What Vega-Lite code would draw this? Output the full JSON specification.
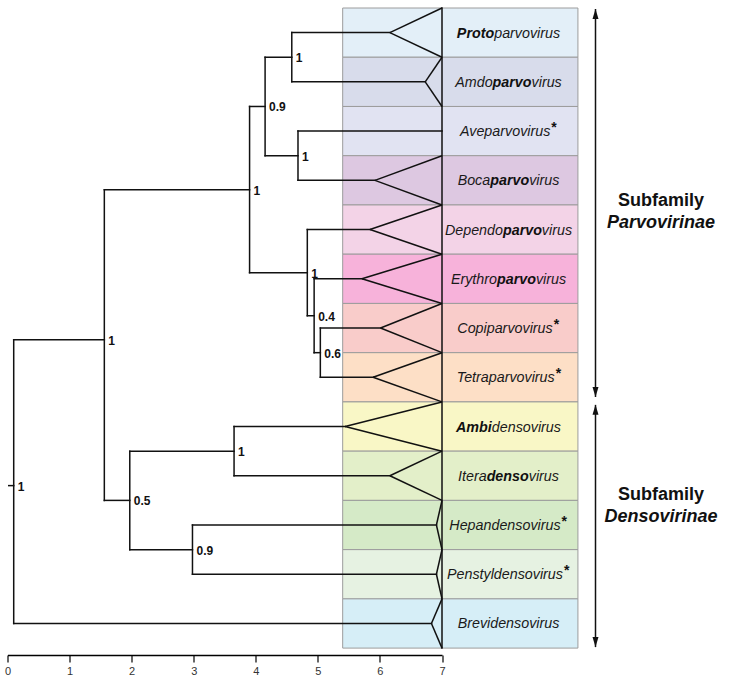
{
  "$schema": "https://vega.github.io/schema/vega-lite/v6.json",
  "width": 720,
  "height": 647,
  "autosize": {"type": "none"},
  "padding": {"left": 7.5, "top": 8, "right": 1.5, "bottom": 28},
  "config": {"view": {"stroke": null}, "font": "Liberation Sans"},
  "datasets": {
    "genera": [
      {"genus": "Protoparvovirus", "top": 0, "mid": 0.5, "bottom": 1, "apex": 6.16},
      {"genus": "Amdoparvovirus", "top": 1, "mid": 1.5, "bottom": 2, "apex": 6.73},
      {"genus": "Aveparvovirus", "top": 2, "mid": 2.5, "bottom": 3, "apex": null},
      {"genus": "Bocaparvovirus", "top": 3, "mid": 3.5, "bottom": 4, "apex": 5.92},
      {"genus": "Dependoparvovirus", "top": 4, "mid": 4.5, "bottom": 5, "apex": 5.84},
      {"genus": "Erythroparvovirus", "top": 5, "mid": 5.5, "bottom": 6, "apex": 5.71},
      {"genus": "Copiparvovirus", "top": 6, "mid": 6.5, "bottom": 7, "apex": 6.01},
      {"genus": "Tetraparvovirus", "top": 7, "mid": 7.5, "bottom": 8, "apex": 5.89},
      {"genus": "Ambidensovirus", "top": 8, "mid": 8.5, "bottom": 9, "apex": 5.44},
      {"genus": "Iteradensovirus", "top": 9, "mid": 9.5, "bottom": 10, "apex": 6.16},
      {"genus": "Hepandensovirus", "top": 10, "mid": 10.5, "bottom": 11, "apex": 6.91},
      {"genus": "Penstyldensovirus", "top": 11, "mid": 11.5, "bottom": 12, "apex": 6.91},
      {"genus": "Brevidensovirus", "top": 12, "mid": 12.5, "bottom": 13, "apex": 6.83}
    ],
    "tree": [
      {"x": 0.02, "y": 9.7, "x2": 0.1, "y2": 9.7},
      {"x": 0.1, "y": 6.74, "x2": 0.1, "y2": 12.5},
      {"x": 0.1, "y": 6.74, "x2": 1.56, "y2": 6.74},
      {"x": 0.1, "y": 12.5, "x2": 6.83, "y2": 12.5},
      {"x": 1.56, "y": 3.69, "x2": 1.56, "y2": 10.0},
      {"x": 1.56, "y": 3.69, "x2": 3.9, "y2": 3.69},
      {"x": 1.56, "y": 10.0, "x2": 1.97, "y2": 10.0},
      {"x": 3.9, "y": 2.0, "x2": 3.9, "y2": 5.375},
      {"x": 3.9, "y": 2.0, "x2": 4.15, "y2": 2.0},
      {"x": 3.9, "y": 5.375, "x2": 4.83, "y2": 5.375},
      {"x": 4.15, "y": 1.0, "x2": 4.15, "y2": 3.0},
      {"x": 4.15, "y": 1.0, "x2": 4.58, "y2": 1.0},
      {"x": 4.15, "y": 3.0, "x2": 4.68, "y2": 3.0},
      {"x": 4.58, "y": 0.5, "x2": 4.58, "y2": 1.5},
      {"x": 4.58, "y": 0.5, "x2": 6.16, "y2": 0.5},
      {"x": 4.58, "y": 1.5, "x2": 6.73, "y2": 1.5},
      {"x": 4.68, "y": 2.5, "x2": 4.68, "y2": 3.5},
      {"x": 4.68, "y": 2.5, "x2": 7.0, "y2": 2.5},
      {"x": 4.68, "y": 3.5, "x2": 5.92, "y2": 3.5},
      {"x": 4.83, "y": 4.5, "x2": 4.83, "y2": 6.25},
      {"x": 4.83, "y": 4.5, "x2": 5.84, "y2": 4.5},
      {"x": 4.83, "y": 6.25, "x2": 4.94, "y2": 6.25},
      {"x": 4.94, "y": 5.5, "x2": 4.94, "y2": 7.0},
      {"x": 4.94, "y": 5.5, "x2": 5.71, "y2": 5.5},
      {"x": 4.94, "y": 7.0, "x2": 5.04, "y2": 7.0},
      {"x": 5.04, "y": 6.5, "x2": 5.04, "y2": 7.5},
      {"x": 5.04, "y": 6.5, "x2": 6.01, "y2": 6.5},
      {"x": 5.04, "y": 7.5, "x2": 5.89, "y2": 7.5},
      {"x": 1.97, "y": 9.0, "x2": 1.97, "y2": 11.0},
      {"x": 1.97, "y": 9.0, "x2": 3.65, "y2": 9.0},
      {"x": 1.97, "y": 11.0, "x2": 2.98, "y2": 11.0},
      {"x": 3.65, "y": 8.5, "x2": 3.65, "y2": 9.5},
      {"x": 3.65, "y": 8.5, "x2": 5.44, "y2": 8.5},
      {"x": 3.65, "y": 9.5, "x2": 6.16, "y2": 9.5},
      {"x": 2.98, "y": 10.5, "x2": 2.98, "y2": 11.5},
      {"x": 2.98, "y": 10.5, "x2": 6.91, "y2": 10.5},
      {"x": 2.98, "y": 11.5, "x2": 6.91, "y2": 11.5},
      {"x": 7.0, "y": 0, "x2": 7.0, "y2": 13}
    ],
    "support": [
      {"x": 0.1, "y": 9.7, "label": "1"},
      {"x": 1.56, "y": 6.74, "label": "1"},
      {"x": 3.9, "y": 3.69, "label": "1"},
      {"x": 4.15, "y": 2.0, "label": "0.9"},
      {"x": 4.58, "y": 1.0, "label": "1"},
      {"x": 4.68, "y": 3.0, "label": "1"},
      {"x": 4.83, "y": 5.375, "label": "1"},
      {"x": 4.94, "y": 6.25, "label": "0.4"},
      {"x": 5.04, "y": 7.0, "label": "0.6"},
      {"x": 1.97, "y": 10.0, "label": "0.5"},
      {"x": 3.65, "y": 9.0, "label": "1"},
      {"x": 2.98, "y": 11.0, "label": "0.9"}
    ],
    "names": [
      {"genus": "Protoparvovirus", "text": "Proto", "x": 7.841, "mid": 0.5, "emph": true, "anchor": "end"},
      {"genus": "Protoparvovirus", "text": "parvovirus", "x": 7.841, "mid": 0.5, "emph": false, "anchor": "start"},
      {"genus": "Amdoparvovirus", "text": "Amdo", "x": 7.815, "mid": 1.5, "emph": false, "anchor": "end"},
      {"genus": "Amdoparvovirus", "text": "parvo", "x": 7.815, "mid": 1.5, "emph": true, "anchor": "start"},
      {"genus": "Amdoparvovirus", "text": "virus", "x": 8.443, "mid": 1.5, "emph": false, "anchor": "start"},
      {"genus": "Aveparvovirus", "text": "Aveparvovirus", "x": 8.745, "mid": 2.5, "emph": false, "anchor": "end"},
      {"genus": "Aveparvovirus", "text": "*", "x": 8.745, "mid": 2.5, "emph": false, "anchor": "sup"},
      {"genus": "Bocaparvovirus", "text": "Boca", "x": 7.777, "mid": 3.5, "emph": false, "anchor": "end"},
      {"genus": "Bocaparvovirus", "text": "parvo", "x": 7.777, "mid": 3.5, "emph": true, "anchor": "start"},
      {"genus": "Bocaparvovirus", "text": "virus", "x": 8.405, "mid": 3.5, "emph": false, "anchor": "start"},
      {"genus": "Dependoparvovirus", "text": "Dependo", "x": 7.982, "mid": 4.5, "emph": false, "anchor": "end"},
      {"genus": "Dependoparvovirus", "text": "parvo", "x": 7.982, "mid": 4.5, "emph": true, "anchor": "start"},
      {"genus": "Dependoparvovirus", "text": "virus", "x": 8.609, "mid": 4.5, "emph": false, "anchor": "start"},
      {"genus": "Erythroparvovirus", "text": "Erythro", "x": 7.886, "mid": 5.5, "emph": false, "anchor": "end"},
      {"genus": "Erythroparvovirus", "text": "parvo", "x": 7.886, "mid": 5.5, "emph": true, "anchor": "start"},
      {"genus": "Erythroparvovirus", "text": "virus", "x": 8.513, "mid": 5.5, "emph": false, "anchor": "start"},
      {"genus": "Copiparvovirus", "text": "Copiparvovirus", "x": 8.783, "mid": 6.5, "emph": false, "anchor": "end"},
      {"genus": "Copiparvovirus", "text": "*", "x": 8.783, "mid": 6.5, "emph": false, "anchor": "sup"},
      {"genus": "Tetraparvovirus", "text": "Tetraparvovirus", "x": 8.816, "mid": 7.5, "emph": false, "anchor": "end"},
      {"genus": "Tetraparvovirus", "text": "*", "x": 8.816, "mid": 7.5, "emph": false, "anchor": "sup"},
      {"genus": "Ambidensovirus", "text": "Ambi", "x": 7.802, "mid": 8.5, "emph": true, "anchor": "end"},
      {"genus": "Ambidensovirus", "text": "densovirus", "x": 7.802, "mid": 8.5, "emph": false, "anchor": "start"},
      {"genus": "Iteradensovirus", "text": "Itera", "x": 7.719, "mid": 9.5, "emph": false, "anchor": "end"},
      {"genus": "Iteradensovirus", "text": "denso", "x": 7.719, "mid": 9.5, "emph": true, "anchor": "start"},
      {"genus": "Iteradensovirus", "text": "virus", "x": 8.398, "mid": 9.5, "emph": false, "anchor": "start"},
      {"genus": "Hepandensovirus", "text": "Hepandensovirus", "x": 8.911, "mid": 10.5, "emph": false, "anchor": "end"},
      {"genus": "Hepandensovirus", "text": "*", "x": 8.911, "mid": 10.5, "emph": false, "anchor": "sup"},
      {"genus": "Penstyldensovirus", "text": "Penstyldensovirus", "x": 8.949, "mid": 11.5, "emph": false, "anchor": "end"},
      {"genus": "Penstyldensovirus", "text": "*", "x": 8.949, "mid": 11.5, "emph": false, "anchor": "sup"},
      {"genus": "Brevidensovirus", "text": "Brevidensovirus", "x": 7.252, "mid": 12.5, "emph": false, "anchor": "start"}
    ],
    "subfamilies": [
      {"text": "Subfamily", "x": 10.528, "y": 4.02, "kind": "word"},
      {"text": "Parvovirinae", "x": 10.528, "y": 4.47, "kind": "name"},
      {"text": "Subfamily", "x": 10.528, "y": 9.99, "kind": "word"},
      {"text": "Densovirinae", "x": 10.528, "y": 10.44, "kind": "name"}
    ],
    "arrows": [
      {"x": 9.473, "y": 0.02, "y2": 7.9},
      {"x": 9.473, "y": 8.06, "y2": 12.98}
    ],
    "heads": [
      {"x": 9.473, "y": 0.02, "dir": "up"},
      {"x": 9.473, "y": 7.9, "dir": "down"},
      {"x": 9.473, "y": 8.06, "dir": "up"},
      {"x": 9.473, "y": 12.98, "dir": "down"}
    ]
  },
  "layer": [
    {
      "data": {"name": "genera"},
      "mark": {"type": "rect", "stroke": "#9c9c9c", "strokeWidth": 1},
      "encoding": {
        "x": {"datum": 5.4, "type": "quantitative", "title": null, "scale": {"domain": [0, 7], "range": [0, 434.5], "nice": false, "zero": false},
          "axis": {"title": null, "values": [0, 1, 2, 3, 4, 5, 6, 7], "format": "d", "grid": false, "domain": true, "domainColor": "#000", "domainWidth": 1.5, "ticks": true, "tickColor": "#000", "tickWidth": 1.2, "tickSize": 7, "labelFont": "Liberation Sans", "labelFontSize": 11, "labelColor": "#333", "labelPadding": 3, "labelFlush": false}},
        "x2": {"datum": 9.19},
        "y": {"field": "top", "type": "quantitative", "scale": {"domain": [0, 13.14], "reverse": true, "nice": false, "zero": false}, "axis": null},
        "y2": {"field": "bottom"},
        "color": {"field": "genus", "type": "nominal", "legend": null, "scale": {
          "domain": ["Protoparvovirus", "Amdoparvovirus", "Aveparvovirus", "Bocaparvovirus", "Dependoparvovirus", "Erythroparvovirus", "Copiparvovirus", "Tetraparvovirus", "Ambidensovirus", "Iteradensovirus", "Hepandensovirus", "Penstyldensovirus", "Brevidensovirus"],
          "range": ["#E3EFF8", "#D8DCEB", "#E1E3F2", "#DDC8E1", "#F3D3E7", "#F7B2DA", "#F9CCCA", "#FDDFC6", "#F9F7C6", "#E3EFC9", "#D5EAC7", "#E6F2E2", "#D6EEF7"]}}
      }
    },
    {
      "data": {"name": "tree"},
      "mark": {"type": "rule", "color": "#111", "strokeWidth": 1.5, "strokeCap": "square"},
      "encoding": {
        "x": {"field": "x", "type": "quantitative", "title": null},
        "x2": {"field": "x2"},
        "y": {"field": "y", "type": "quantitative", "axis": null},
        "y2": {"field": "y2"}
      }
    },
    {
      "data": {"name": "genera"},
      "transform": [{"filter": "datum.apex != null"}],
      "mark": {"type": "rule", "color": "#111", "strokeWidth": 1.5},
      "encoding": {
        "x": {"field": "apex", "type": "quantitative", "title": null},
        "x2": {"datum": 7},
        "y": {"field": "mid", "type": "quantitative", "axis": null},
        "y2": {"field": "top"}
      }
    },
    {
      "data": {"name": "genera"},
      "transform": [{"filter": "datum.apex != null"}],
      "mark": {"type": "rule", "color": "#111", "strokeWidth": 1.5},
      "encoding": {
        "x": {"field": "apex", "type": "quantitative", "title": null},
        "x2": {"datum": 7},
        "y": {"field": "mid", "type": "quantitative", "axis": null},
        "y2": {"field": "bottom"}
      }
    },
    {
      "data": {"name": "support"},
      "mark": {"type": "text", "align": "left", "baseline": "middle", "dx": 4, "dy": 1, "font": "Liberation Sans", "fontSize": 12, "fontWeight": "bold", "color": "#111"},
      "encoding": {
        "x": {"field": "x", "type": "quantitative", "title": null},
        "y": {"field": "y", "type": "quantitative", "axis": null},
        "text": {"field": "label"}
      }
    },
    {
      "data": {"name": "names"},
      "transform": [{"filter": "datum.emph == false && datum.anchor == 'end'"}],
      "mark": {"type": "text", "align": "right", "baseline": "middle", "dy": 1, "font": "Liberation Sans", "fontSize": 14.3, "fontStyle": "italic", "color": "#1a1a1a"},
      "encoding": {
        "x": {"field": "x", "type": "quantitative", "title": null},
        "y": {"field": "mid", "type": "quantitative", "axis": null},
        "text": {"field": "text"}
      }
    },
    {
      "data": {"name": "names"},
      "transform": [{"filter": "datum.emph == false && datum.anchor == 'start'"}],
      "mark": {"type": "text", "align": "left", "baseline": "middle", "dy": 1, "font": "Liberation Sans", "fontSize": 14.3, "fontStyle": "italic", "color": "#1a1a1a"},
      "encoding": {
        "x": {"field": "x", "type": "quantitative", "title": null},
        "y": {"field": "mid", "type": "quantitative", "axis": null},
        "text": {"field": "text"}
      }
    },
    {
      "data": {"name": "names"},
      "transform": [{"filter": "datum.emph == true && datum.anchor == 'end'"}],
      "mark": {"type": "text", "align": "right", "baseline": "middle", "dy": 1, "font": "Liberation Sans", "fontSize": 14.3, "fontStyle": "italic", "fontWeight": "bold", "color": "#111"},
      "encoding": {
        "x": {"field": "x", "type": "quantitative", "title": null},
        "y": {"field": "mid", "type": "quantitative", "axis": null},
        "text": {"field": "text"}
      }
    },
    {
      "data": {"name": "names"},
      "transform": [{"filter": "datum.emph == true && datum.anchor == 'start'"}],
      "mark": {"type": "text", "align": "left", "baseline": "middle", "dy": 1, "font": "Liberation Sans", "fontSize": 14.3, "fontStyle": "italic", "fontWeight": "bold", "color": "#111"},
      "encoding": {
        "x": {"field": "x", "type": "quantitative", "title": null},
        "y": {"field": "mid", "type": "quantitative", "axis": null},
        "text": {"field": "text"}
      }
    },
    {
      "data": {"name": "names"},
      "transform": [{"filter": "datum.anchor == 'sup'"}],
      "mark": {"type": "text", "align": "left", "baseline": "middle", "dx": 1, "dy": -3, "font": "Liberation Sans", "fontSize": 14, "fontWeight": "bold", "color": "#111"},
      "encoding": {
        "x": {"field": "x", "type": "quantitative", "title": null},
        "y": {"field": "mid", "type": "quantitative", "axis": null},
        "text": {"field": "text"}
      }
    },
    {
      "data": {"name": "subfamilies"},
      "transform": [{"filter": "datum.kind == 'word'"}],
      "mark": {"type": "text", "align": "center", "baseline": "alphabetic", "font": "Liberation Sans", "fontSize": 18, "fontWeight": "bold", "color": "#111"},
      "encoding": {
        "x": {"field": "x", "type": "quantitative", "title": null},
        "y": {"field": "y", "type": "quantitative", "axis": null},
        "text": {"field": "text"}
      }
    },
    {
      "data": {"name": "subfamilies"},
      "transform": [{"filter": "datum.kind == 'name'"}],
      "mark": {"type": "text", "align": "center", "baseline": "alphabetic", "font": "Liberation Sans", "fontSize": 18, "fontWeight": "bold", "fontStyle": "italic", "color": "#111"},
      "encoding": {
        "x": {"field": "x", "type": "quantitative", "title": null},
        "y": {"field": "y", "type": "quantitative", "axis": null},
        "text": {"field": "text"}
      }
    },
    {
      "data": {"name": "arrows"},
      "mark": {"type": "rule", "color": "#111", "strokeWidth": 1.5},
      "encoding": {
        "x": {"field": "x", "type": "quantitative", "title": null},
        "y": {"field": "y", "type": "quantitative", "axis": null},
        "y2": {"field": "y2"}
      }
    },
    {
      "data": {"name": "heads"},
      "mark": {"type": "point", "filled": true, "color": "#111", "opacity": 1, "size": 100, "strokeWidth": 0},
      "encoding": {
        "x": {"field": "x", "type": "quantitative", "title": null},
        "y": {"field": "y", "type": "quantitative", "axis": null},
        "shape": {"field": "dir", "type": "nominal", "legend": null, "scale": {"domain": ["up", "down"], "range": ["M0,0L0.6,2L-0.6,2Z", "M0,0L0.6,-2L-0.6,-2Z"]}}
      }
    }
  ]
}
